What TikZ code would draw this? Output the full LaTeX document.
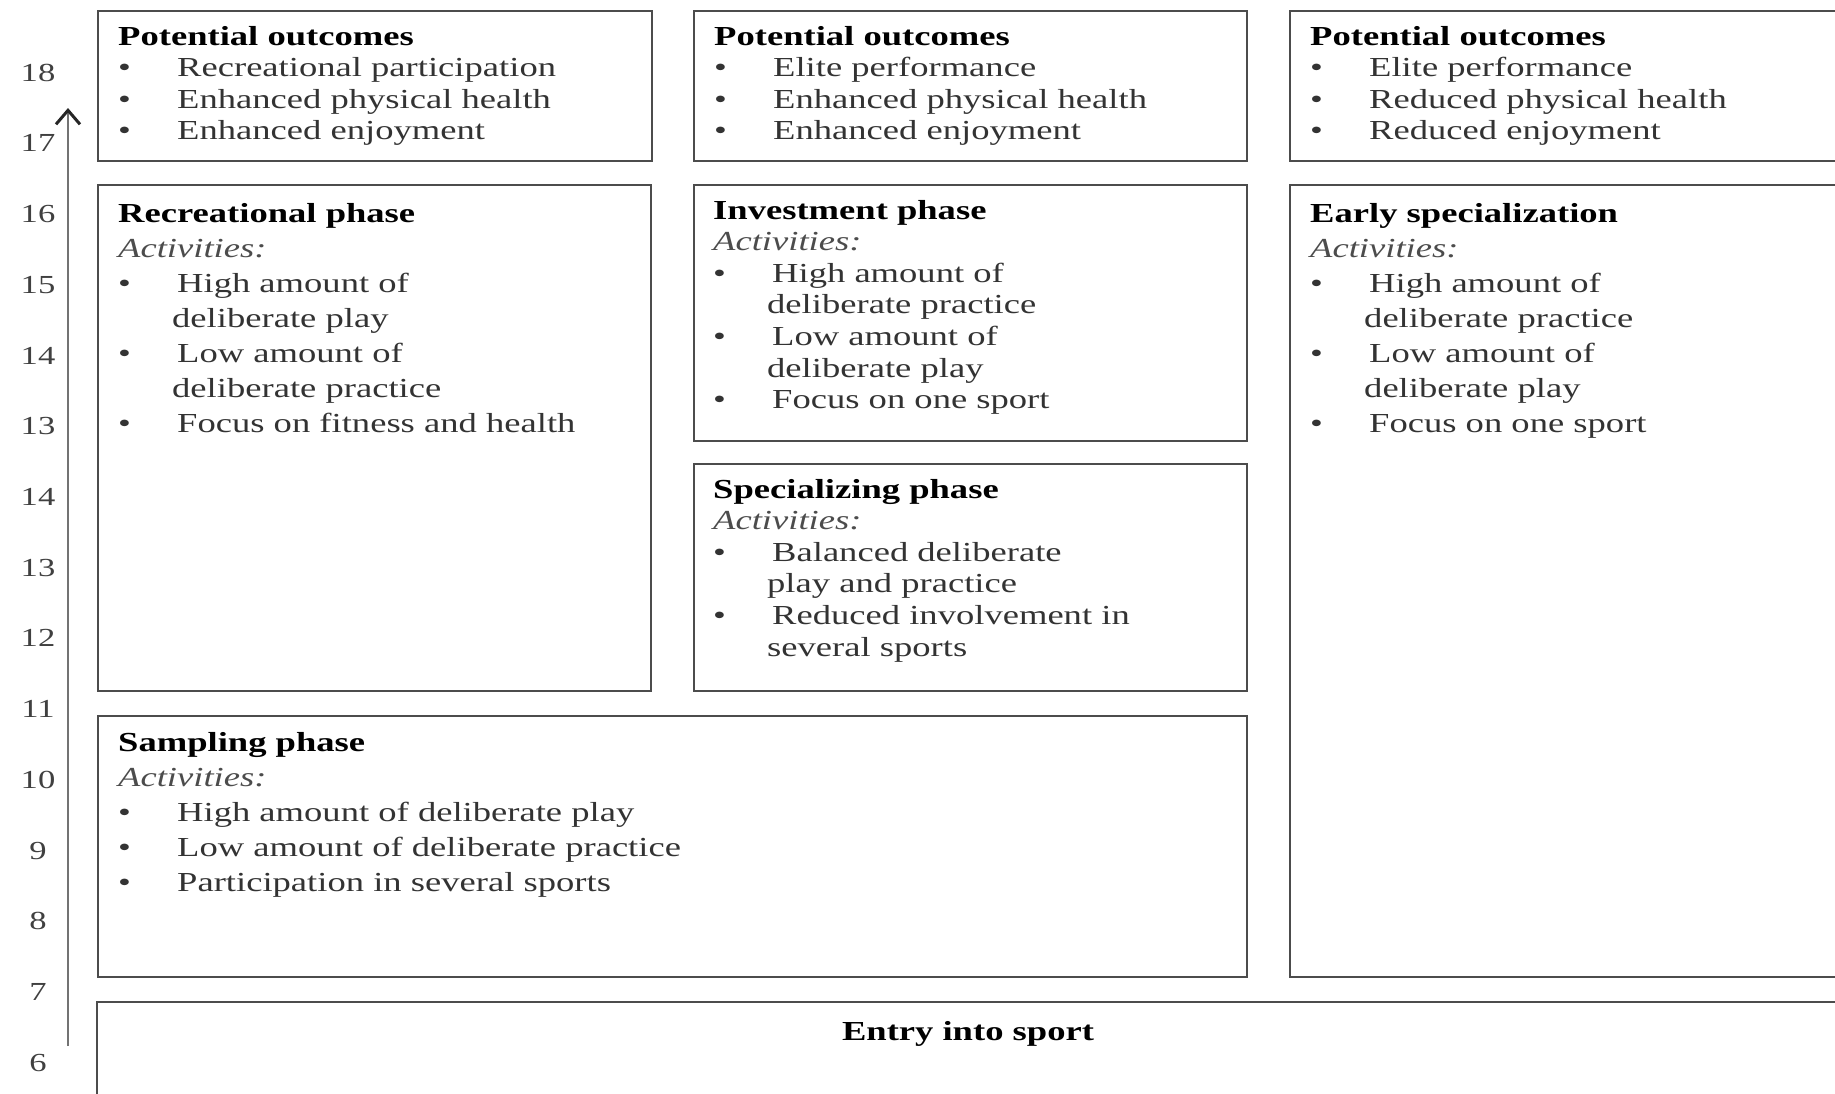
\documentclass[tikz,border=0pt]{standalone}
\usepackage{fontspec}
\setmainfont{Liberation Serif}[FakeStretch=1.33]
\usetikzlibrary{positioning,arrows.meta}

% list helpers
\newcommand{\bul}{\makebox[59pt][l]{\hspace{0pt}\textbullet}}
\newcommand{\cont}{\hspace*{54pt}}
\newcommand{\hd}[1]{\textcolor{black}{\textbf{#1}}}
\newcommand{\acts}{\textcolor{black!70}{\textit{Activities:}}}

\tikzset{
  panel/.style={draw=black!70, line width=1.8pt, anchor=north west, inner sep=0pt},
  body/.style={anchor=base west, align=left, inner sep=0pt, text width=520pt, text=black!80,
    font=\fontsize{27.5}{31.6}\selectfont},
  loose/.style={body, font=\fontsize{27.5}{35.1}\selectfont},
  head/.style={anchor=base, inner sep=0pt, font=\fontsize{27.5}{31.6}\selectfont\bfseries},
  age/.style={text=black!75, font=\fontsize{26}{30}\selectfont},
  axis/.style={draw=black!55, line width=2pt,
    -{Straight Barb[length=14pt, width=24pt, line width=3pt, color=black!85]}},
}

\begin{document}
\begin{tikzpicture}[x=1pt, y=-1pt]
\useasboundingbox (0,0) rectangle (1835,1093);
\clip (0,0) rectangle (1835,1093);

% age axis
\foreach \a [count=\i from 0] in {18,17,16,15,14,13,14,13,12,11,10,9,8,7,6}
  \node[age] (age\i) at (38,{72.6+70.72*\i}) {\a};
\coordinate (axbot) at (68,1046);
\coordinate (axtop) at (68,108);
\draw[axis] (axbot) -- (axtop);

% outcomes row
\node[panel, minimum width=554, minimum height=150] (out1) at (97,10) {};
\node[panel, minimum width=553, minimum height=150] (out2) at (693,10) {};
\node[panel, minimum width=553, minimum height=150] (out3) at (1289,10) {};

\node[body] (out1-t) at ([shift={(21,35)}]out1.north west) {\hd{Potential outcomes}\\
  \bul Recreational participation\\
  \bul Enhanced physical health\\
  \bul Enhanced enjoyment};
\node[body] (out2-t) at ([shift={(21,35)}]out2.north west) {\hd{Potential outcomes}\\
  \bul Elite performance\\
  \bul Enhanced physical health\\
  \bul Enhanced enjoyment};
\node[body] (out3-t) at ([shift={(21,35)}]out3.north west) {\hd{Potential outcomes}\\
  \bul Elite performance\\
  \bul Reduced physical health\\
  \bul Reduced enjoyment};

% phases
\node[panel, minimum width=553, minimum height=506] (rec) at (97,184) {};
\node[panel, minimum width=553, minimum height=256] (inv) at (693,184) {};
\node[panel, minimum width=553, minimum height=227] (spec) at (693,463) {};
\node[panel, minimum width=553, minimum height=792] (early) at (1289,184) {};
\node[panel, minimum width=1149, minimum height=261] (samp) at (97,715) {};
\node[panel, minimum width=1750, minimum height=120] (entry) at (96,1001) {};

\node[loose] (rec-t) at ([shift={(21,38)}]rec.north west) {\hd{Recreational phase}\\
  \acts\\
  \bul High amount of\\
  \cont deliberate play\\
  \bul Low amount of\\
  \cont deliberate practice\\
  \bul Focus on fitness and health};
\node[body] (inv-t) at ([shift={(20,35)}]inv.north west) {\hd{Investment phase}\\
  \acts\\
  \bul High amount of\\
  \cont deliberate practice\\
  \bul Low amount of\\
  \cont deliberate play\\
  \bul Focus on one sport};
\node[body] (spec-t) at ([shift={(20,35)}]spec.north west) {\hd{Specializing phase}\\
  \acts\\
  \bul Balanced deliberate\\
  \cont play and practice\\
  \bul Reduced involvement in\\
  \cont several sports};
\node[loose] (early-t) at ([shift={(21,38)}]early.north west) {\hd{Early specialization}\\
  \acts\\
  \bul High amount of\\
  \cont deliberate practice\\
  \bul Low amount of\\
  \cont deliberate play\\
  \bul Focus on one sport};
\node[loose, text width=1100pt] (samp-t) at ([shift={(21,36)}]samp.north west) {\hd{Sampling phase}\\
  \acts\\
  \bul High amount of deliberate play\\
  \bul Low amount of deliberate practice\\
  \bul Participation in several sports};
\node[head] (entry-t) at ([shift={(872,39)}]entry.north west) {Entry into sport};
\end{tikzpicture}
\end{document}
